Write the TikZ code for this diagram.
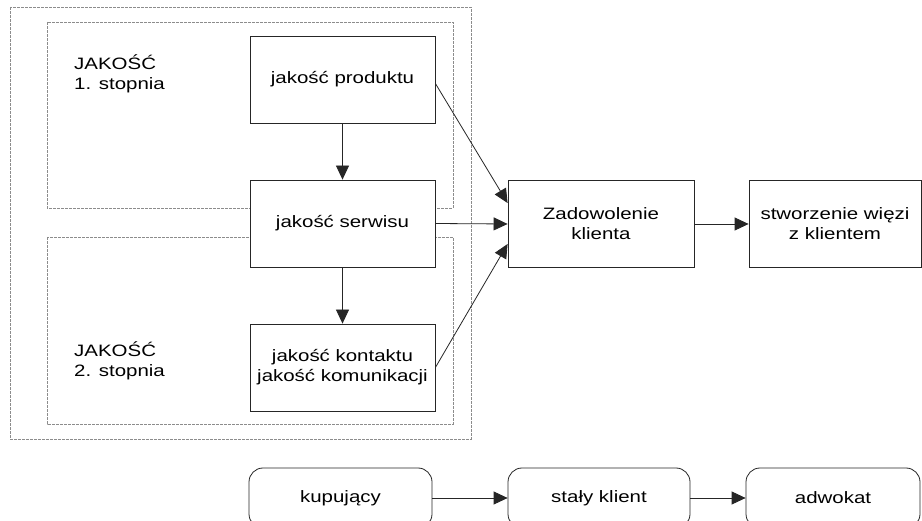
\documentclass[tikz,border=0pt]{standalone}
\usepackage{fontspec}
\setmainfont{Liberation Sans}[FakeStretch=1.24]
\usetikzlibrary{arrows.meta}
\begin{document}
\begin{tikzpicture}[x=1pt,y=-1pt,
  txt/.style={font=\fontsize{16.5}{20}\selectfont},
  frame/.style={draw=black!45, line width=0.8pt, dash pattern=on 3pt off 1pt},
  box/.style={txt, draw=black!85, fill=white, line width=0.8pt, minimum height=87pt, inner sep=0pt, align=center},
  rbox/.style={txt, draw=black!85, fill=white, line width=0.8pt, rounded corners=14pt, minimum height=60pt, inner sep=0pt, align=center},
  arr/.style={draw=black!85, line width=0.8pt, -{Triangle[length=14pt,width=13pt]}},
  lbl/.style={txt, anchor=base west, inner sep=0pt, align=left}
]
\clip (0,0) rectangle (922,521);
\fill[white] (0,0) rectangle (922,521);
% dashed frames
\draw[frame] (10,7) rectangle (471,439);
\draw[frame] (47,22) rectangle (453,208);
\draw[frame] (47,237) rectangle (453,424);
% labels
\node[lbl] (l1) at (74,90) {JAKOŚĆ\\1. stopnia};
\node[lbl] (l2) at (74,377) {JAKOŚĆ\\2. stopnia};
% boxes
\node[box, minimum width=185pt] (prod) at (342.5,79.5) {jakość produktu};
\node[box, minimum width=185pt] (serw) at (342.5,223.5) {jakość serwisu};
\node[box, minimum width=185pt] (kont) at (342.5,367.5) {jakość kontaktu\\jakość komunikacji};
\node[box, minimum width=186pt] (zad) at (601,224) {Zadowolenie\\klienta};
\node[box, minimum width=172pt] (stw) at (835,224) {stworzenie więzi\\z klientem};
% bottom row
\node[rbox, minimum width=183pt] (kup) at (340.5,498) {kupujący};
\node[rbox, minimum width=182pt] (sta) at (599,498) {stały klient};
\node[rbox, minimum width=174pt] (adw) at (833,498) {adwokat};
% connectors
\draw[arr] (prod) -- (serw);
\draw[arr] (serw) -- (kont);
\draw[arr] ([yshift=-4pt]prod.east) -- ([yshift=21pt]zad.west);
\draw[arr] (serw.east) -- (zad.west);
\draw[arr] (kont.east) -- ([yshift=-20pt]zad.west);
\draw[arr] (zad) -- (stw);
\draw[arr] (kup) -- (sta);
\draw[arr] (sta) -- (adw);
\end{tikzpicture}
\end{document}
